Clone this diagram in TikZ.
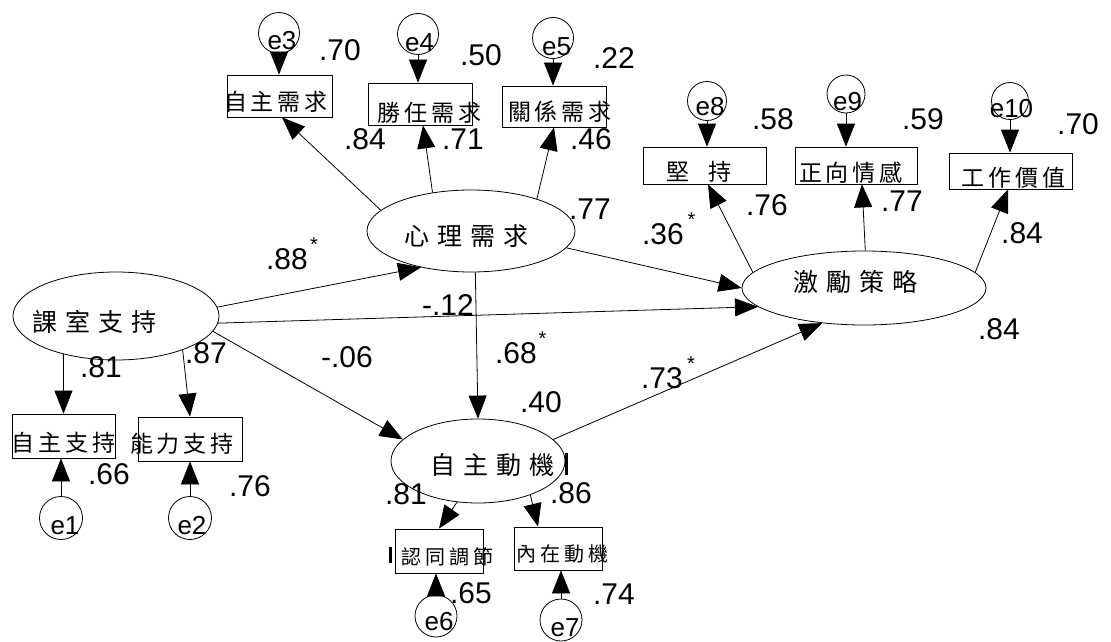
\documentclass[tikz,border=0pt]{standalone}
\usepackage{fontspec}
\setmainfont{Liberation Sans}
\newfontfamily\cjk{Noto Sans CJK TC}
\usetikzlibrary{arrows.meta,shapes.geometric}
\makeatletter
\newcommand\zhsp[2]{{\def\zh@sep{}\@tfor\zh@c:=#2\do{\zh@sep\zh@c\def\zh@sep{\hspace{#1}}}}}
\makeatother
\tikzset{
 lat/.style={ellipse, draw, line width=0.8pt, inner sep=0pt},
 obs/.style={rectangle, draw, line width=0.8pt, inner sep=0pt},
 err/.style={circle, draw, line width=0.8pt, inner sep=0pt},
 num/.style={inner sep=0pt, font=\fontsize{30}{30}\selectfont},
 star/.style={inner sep=0pt, anchor=north, font=\fontsize{20}{20}\selectfont},
 etx/.style={inner sep=0pt, font=\fontsize{26}{26}\selectfont},
 zhbox/.style={inner sep=0pt, font=\cjk\fontsize{23}{23}\selectfont},
 zhell/.style={inner sep=0pt, font=\cjk\fontsize{25}{25}\selectfont},
 zhsm/.style={inner sep=0pt, font=\cjk\fontsize{20}{20}\selectfont},
 arr/.style={line width=0.8pt, -{Triangle[length=23pt,width=18pt]}},
 bar/.style={line width=3pt},
}
\begin{document}
\begin{tikzpicture}[x=1pt,y=-1pt]
\fill[white] (0,0) rectangle (1111,642);
\useasboundingbox (0,0) rectangle (1111,642);

% latent variables
\node[lat, minimum width=208pt, minimum height=82pt] (psy) at (471,231) {};
\node[lat, minimum width=206pt, minimum height=88pt] (cls) at (116,316) {};
\node[lat, minimum width=244pt, minimum height=74pt] (mot) at (864,288) {};
\node[lat, minimum width=174pt, minimum height=84pt] (aut) at (478,461) {};

\node[zhell] (tpsy) at (466.5,236.5) {\zhsp{8pt}{心理需求}};
\node[zhell] (tcls) at (94,321.5) {\zhsp{8pt}{課室支持}};
\node[zhell] (tmot) at (855,281.5) {\zhsp{8pt}{激勵策略}};
\node[zhell] (taut) at (492.5,465.5) {\zhsp{8pt}{自主動機}};

% observed variables
\node[obs, minimum width=105pt, minimum height=42pt] (b1) at (279.5,96) {};
\node[obs, minimum width=104pt, minimum height=42pt] (b2) at (420,104) {};
\node[obs, minimum width=104pt, minimum height=41pt] (b3) at (554,106.5) {};
\node[obs, minimum width=123pt, minimum height=37pt] (b4) at (704.5,165.5) {};
\node[obs, minimum width=122pt, minimum height=37pt] (b5) at (856,165.5) {};
\node[obs, minimum width=123pt, minimum height=36pt] (b6) at (1010.5,171) {};
\node[obs, minimum width=103pt, minimum height=44pt] (b7) at (63.5,436) {};
\node[obs, minimum width=104pt, minimum height=44pt] (b8) at (190,439) {};
\node[obs, minimum width=88pt, minimum height=44pt] (b9) at (439,551) {};
\node[obs, minimum width=88pt, minimum height=43pt] (b10) at (558,548.5) {};

\node[zhbox] (t1) at (276,101.5) {\zhsp{4pt}{自主需求}};
\node[zhbox] (t2) at (429.5,112.5) {\zhsp{4pt}{勝任需求}};
\node[zhbox] (t3) at (560,111.5) {\zhsp{4pt}{關係需求}};
\node[zhbox] (t4) at (699,172) {堅\hspace{20pt}持};
\node[zhbox] (t5) at (851,172.5) {\zhsp{4pt}{正向情感}};
\node[zhbox] (t6) at (1013.5,177.5) {\zhsp{4pt}{工作價值}};
\node[zhbox] (t7) at (64,442.5) {\zhsp{4pt}{自主支持}};
\node[zhbox] (t8) at (182,444) {\zhsp{4pt}{能力支持}};
\node[zhsm] (t9) at (447,556.5) {\zhsp{4pt}{認同調節}};
\node[zhsm] (t10) at (562.5,554) {\zhsp{4pt}{內在動機}};

% error terms
\node[err, minimum size=43pt] (e1) at (61,518) {};
\node[err, minimum size=43pt] (e2) at (190,518) {};
\node[err, minimum size=41pt] (e3) at (279,33) {};
\node[err, minimum size=41pt] (e4) at (418,34) {};
\node[err, minimum size=41pt] (e5) at (553,38) {};
\node[err, minimum size=42pt] (e6) at (436,616) {};
\node[err, minimum size=42pt] (e7) at (561,620) {};
\node[err, minimum size=39pt] (e8) at (707,101) {};
\node[err, minimum size=38pt] (e9) at (846,94) {};
\node[err, minimum size=37pt] (e10) at (1010,101) {};

\node[etx] (te1) at (65,526) {e1};
\node[etx] (te2) at (192,526) {e2};
\node[etx] (te3) at (282,41) {e3};
\node[etx] (te4) at (419.5,42.5) {e4};
\node[etx] (te5) at (556.5,47) {e5};
\node[etx] (te6) at (439,621.5) {e6};
\node[etx] (te7) at (565,628) {e7};
\node[etx] (te8) at (710,107) {e8};
\node[etx] (te9) at (847.5,102) {e9};
\node[etx] (te10) at (1011.5,109) {e10};

% error arrows
\draw[arr] (e1) -- (e1 |- b7.south);
\draw[arr] (e2) -- (e2 |- b8.south);
\draw[arr] (e3) -- (e3 |- b1.north);
\draw[arr] (e4) -- (e4 |- b2.north);
\draw[arr] (e5) -- (e5 |- b3.north);
\draw[arr] (e6) -- (e6 |- b9.south);
\draw[arr] (e7) -- (e7 |- b10.south);
\draw[arr] (e8) -- (e8 |- b4.north);
\draw[arr] (e9) -- (e9 |- b5.north);
\draw[arr] (e10) -- (e10 |- b6.north);

% structural and measurement arrows
\draw[arr] (psy.167) -- ([xshift=2.5pt]b1.south);
\draw[arr] (psy.135) -- ([xshift=3pt]b2.south);
\draw[arr] (psy.26) -- (b3.south);
\draw[arr] (psy.-10) -- (mot.180);
\draw[arr] (psy.-84) -- (aut.90);
\draw[arr] (cls.5) -- (psy.-144);
\draw[arr] (cls.-4) -- (mot.-170);
\draw[arr] (cls.-9) -- (aut.164);
\draw[arr] (cls.-144) -- (b7.north);
\draw[arr] (cls.-27) -- (b8.north);
\draw[arr] (aut.16) -- (mot.-140);
\draw[arr] (aut.-117) -- (b9.north);
\draw[arr] (aut.-33) -- ([xshift=-20pt]b10.north);
\draw[arr] (mot.172) -- ([xshift=3.5pt]b4.south);
\draw[arr] (mot.88) -- ([xshift=6pt]b5.south);
\draw[arr] (mot.8) -- ([xshift=-2.5pt]b6.south);

% marks
\draw[bar] (390,547) -- (390,563);
\draw[bar] (566.5,453) -- (566.5,475);

% numbers
\node[num] (n70a) at (340,50) {.70};
\node[num] (n50) at (481,55) {.50};
\node[num] (n22) at (614,58) {.22};
\node[num] (n84a) at (365,139) {.84};
\node[num] (n71) at (463,139) {.71};
\node[num] (n46) at (591,139) {.46};
\node[num] (n77a) at (590,209) {.77};
\node[num] (n58) at (773,119) {.58};
\node[num] (n59) at (923,119) {.59};
\node[num] (n70b) at (1078,124) {.70};
\node[num] (n76a) at (767,205) {.76};
\node[num] (n77b) at (902,201) {.77};
\node[num] (n84b) at (1022,233) {.84};
\node[num] (n84c) at (999,329) {.84};
\node[num] (n36) at (663,234) {.36};
\node[star] (s36) at (691.5,213) {*};
\node[num] (n88) at (287,259) {.88};
\node[star] (s88) at (314,238) {*};
\node[num] (n12) at (448,305) {-.12};
\node[num] (n68) at (516,353) {.68};
\node[star] (s68) at (542.5,332) {*};
\node[num] (n73) at (662,378) {.73};
\node[star] (s73) at (691,357) {*};
\node[num] (n40) at (541,402) {.40};
\node[num] (n06) at (347,357) {-.06};
\node[num] (n81a) at (101,367) {.81};
\node[num] (n87) at (206,353) {.87};
\node[num] (n66) at (109,474) {.66};
\node[num] (n76b) at (250,486) {.76};
\node[num] (n81b) at (406,494) {.81};
\node[num] (n86) at (571,493) {.86};
\node[num] (n65) at (471,593) {.65};
\node[num] (n74) at (614,594) {.74};
\end{tikzpicture}
\end{document}
